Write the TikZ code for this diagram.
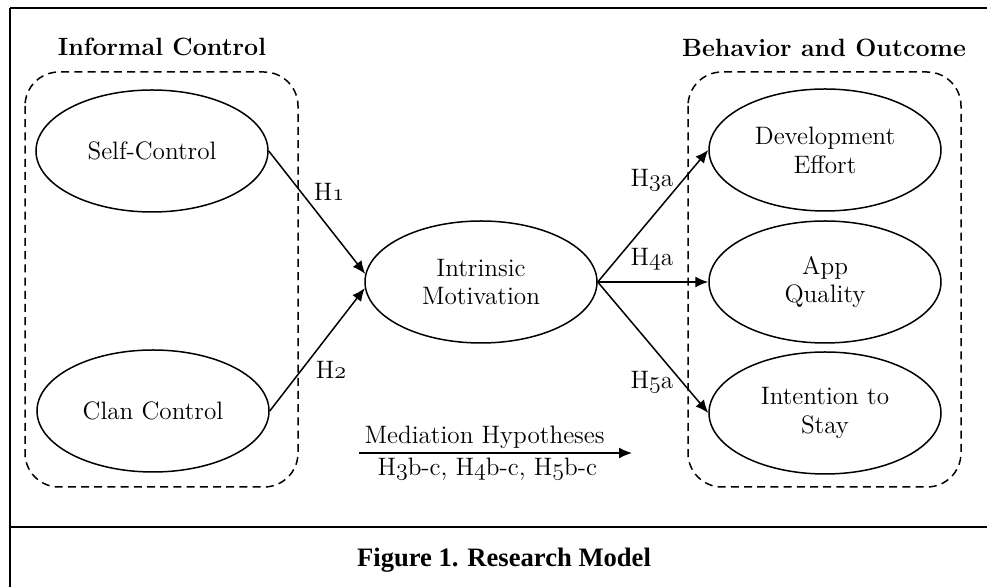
\documentclass[tikz,border=0pt]{standalone}
\usepackage{fontspec}
\newfontfamily\capfont{Liberation Serif}
\usetikzlibrary{arrows.meta,shapes.geometric}
\newcommand{\hnum}[1]{$\mathnormal{#1}$}
\tikzset{
  construct/.style={draw, ellipse, line width=0.75pt, minimum width=116pt, minimum height=61pt, align=center, inner sep=0pt},
  groupbox/.style={draw, dash pattern=on 4pt off 2.6pt, line width=0.75pt, rounded corners=17pt},
  hyparrow/.style={line width=0.75pt, -{Latex[length=6.5pt,width=5.5pt]}},
  framerule/.style={line width=1.2pt},
  heading/.style={font=\fontsize{12.5}{14}\selectfont\bfseries},
}
\begin{document}
\begin{tikzpicture}[x=0.5pt, y=-0.5pt, font=\fontsize{12.6}{14.4}\selectfont]
        \useasboundingbox (0,0) rectangle (987,587);
        % 枠線
        \draw[framerule] (10,8) -- (987,8);
        \draw[framerule] (10,8) -- (10,587);
        \draw[framerule] (10,527) -- (987,527);
        \node (caption) at (504,560) {\fontsize{13.3}{15}\selectfont\capfont\bfseries Figure 1. Research Model};

        % グループ
        \draw[groupbox] (25,72) rectangle (298,487);
        \draw[groupbox] (688,72) rectangle (961,487);
        \node[heading] (informal) at (162,47) {Informal Control};
        \node[heading] (outcome) at (824,48) {Behavior and Outcome};

        % 構成概念
        \node[construct] (self) at (152,151) {Self-Control};
        \node[construct] (clan) at (153,411) {Clan Control};
        \node[construct] (motiv) at (481,282) {Intrinsic\\Motivation};
        \node[construct] (effort) at (825,150) {Development\\Effort};
        \node[construct] (quality) at (825,282) {App\\Quality};
        \node[construct] (stay) at (825,413) {Intention to\\Stay};

        % 仮説
        \draw[hyparrow] (self.east) -- (motiv.176);
        \draw[hyparrow] (clan.east) -- (motiv.183);
        \draw[hyparrow] (motiv.east) -- (effort.west);
        \draw[hyparrow] (motiv.east) -- (quality.west);
        \draw[hyparrow] (motiv.east) -- (stay.west);

        \node (h1) at (329,192) {H\hnum{1}};
        \node (h2) at (331,370) {H\hnum{2}};
        \node (h3a) at (652,180) {H\hnum{3}a};
        \node (h4a) at (652,259) {H\hnum{4}a};
        \node (h5a) at (652,382) {H\hnum{5}a};

        % 媒介仮説
        \coordinate (medstart) at (359,453);
        \coordinate (medend) at (632,453);
        \draw[hyparrow] (medstart) -- (medend)
            node[pos=0.46, above, inner sep=2pt] (medtop) {Mediation Hypotheses}
            node[pos=0.47, below, inner sep=2pt] (medbot) {H\hnum{3}b-c, H\hnum{4}b-c, H\hnum{5}b-c};
\end{tikzpicture}
\end{document}
